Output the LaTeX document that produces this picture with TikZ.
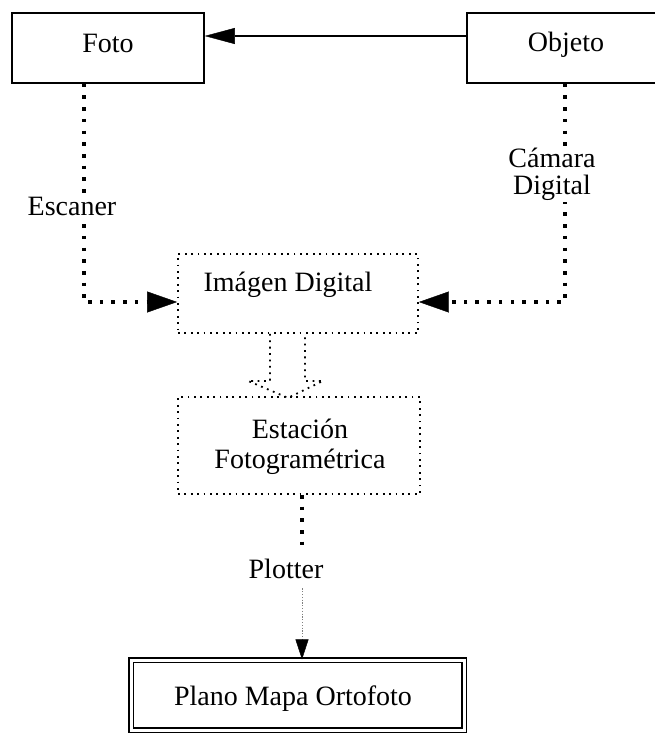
\documentclass[tikz,border=0pt]{standalone}
\usepackage{fontspec}
\setmainfont{Liberation Serif}
\usetikzlibrary{arrows.meta,calc}

\tikzset{
  solidbox/.style={draw, line width=1.5pt, inner sep=0pt},
  dotbox/.style={draw, line width=1.8pt, dash pattern=on 1.8pt off 4.6pt, inner sep=0pt},
  framebox/.style={draw, double, double distance=3pt, line width=1.1pt, inner sep=0pt},
  lbl/.style={font=\fontsize{28}{27}\selectfont, inner sep=0pt},
  tag/.style={lbl, fill=white, inner sep=2pt},
  bigdots/.style={line width=3.6pt, dash pattern=on 3.6pt off 8.1pt},
  smalldots/.style={line width=1.8pt, dash pattern=on 1.8pt off 4.6pt},
  thindots/.style={line width=0.8pt, gray, dash pattern=on 1.2pt off 1.6pt},
  bighead/.style={-{Triangle[length=30pt,width=16pt,line width=0.4pt,color=black,fill=black]}},
  dothead/.style={-{Triangle[length=30pt,width=21pt,line width=0.4pt,color=black,fill=black]}},
  smallhead/.style={-{Triangle[length=20pt,width=13pt,line width=0.4pt,color=black,fill=black]}}
}

\begin{document}
\begin{tikzpicture}[x=1pt,y=-1pt]
\useasboundingbox (0,0) rectangle (655,733);

% boxes
\node[solidbox, minimum width=192pt, minimum height=70pt] (foto)   at (108,48) {};
\node[solidbox, minimum width=192pt, minimum height=70pt] (objeto) at (563,48) {};
\node[dotbox, minimum width=240pt, minimum height=79pt] (imagen)   at (298,293.5) {};
\node[dotbox, minimum width=242pt, minimum height=97pt] (estacion) at (299,445.5) {};
\node[framebox, minimum width=333pt, minimum height=70pt] (plano)  at (297.5,695) {};

% box texts
\node[lbl, anchor=base] (fotot)   at (108,53)  {Foto};
\node[lbl, anchor=base] (objetot) at (566,52)  {Objeto};
\node[lbl, anchor=base] (imagent) at (288,291) {Imágen Digital};
\node[lbl, anchor=base] (estt1)   at (300,438) {Estación};
\node[lbl, anchor=base] (estt2)   at (300,468) {Fotogramétrica};
\node[lbl, anchor=base] (planot)  at (293,705) {Plano Mapa Ortofoto};

% guide coordinates for the connectors
\coordinate (ay) at (0,36);
\coordinate (lx) at (84,0);
\coordinate (rx) at (565,0);
\coordinate (hy) at (0,302);
\coordinate (px) at (302,0);

% Objeto -> Foto
\draw[line width=1.5pt, bighead] (objeto.west |- ay) -- (foto.east |- ay);

% Foto -> Imagen (scanner)
\draw[bigdots, dothead] (foto.south -| lx) -- (lx |- hy) -- (imagen.west |- hy);
\node[tag, anchor=base] (escaner) at (72,215) {Escaner};

% Objeto -> Imagen (camera)
\draw[bigdots, dothead] (objeto.south -| rx) -- (rx |- hy) -- (imagen.east |- hy);
\node[tag, align=center, anchor=base] (camara) at (552,194) {Cámara\\Digital};

% hollow block arrow Imagen -> Estacion
\draw[smalldots, line join=round]
  ($(imagen.south)+(-28,0)$) -- ($(imagen.south)+(-28,47)$) --
  ($(imagen.south)+(-50,47)$) -- ($(imagen.south)+(-10,64)$) --
  ($(imagen.south)+(25,47)$) -- ($(imagen.south)+(7,47)$) --
  ($(imagen.south)+(7,0)$);

% Estacion -> Plano (plotter)
\node[lbl, anchor=base] (plotter) at (286,578) {Plotter};
\draw[bigdots] (estacion.south -| px) -- ($(plotter.north -| px)+(0,-6)$);
\draw[thindots, smallhead] ($(plotter.south -| px)+(0,10)$) -- (plano.north -| px);
\end{tikzpicture}
\end{document}
